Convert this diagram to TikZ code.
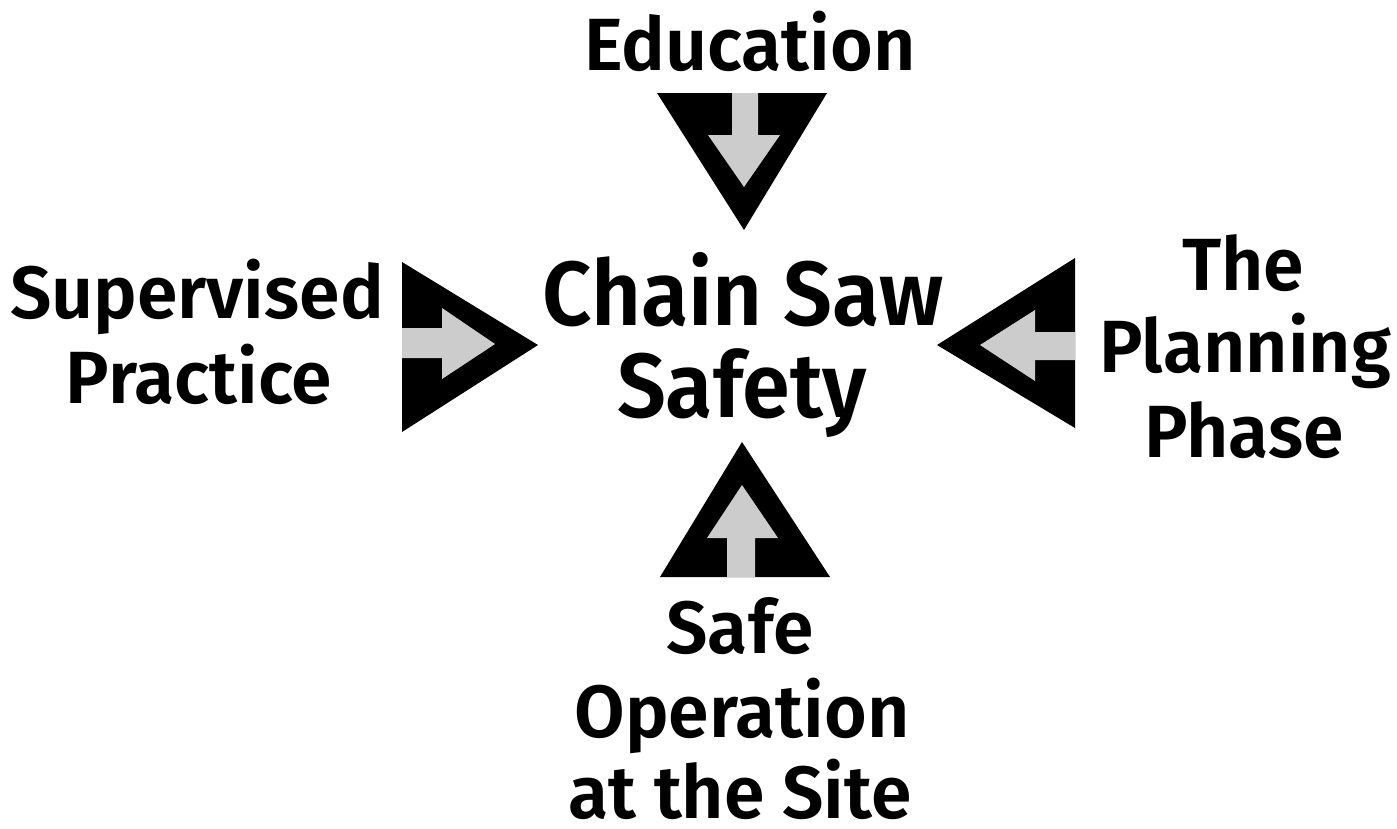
\documentclass[tikz,border=0pt]{standalone}
\usepackage{fontspec}
\newfontfamily\lblfont{Fira Sans SemiBold}[FakeStretch=0.99]
\newfontfamily\ctrfont{Fira Sans SemiBold}[FakeStretch=0.95]
\begin{document}
\begin{tikzpicture}[x=1pt,y=-1pt,
  lbl/.style={anchor=base,inner sep=0pt,text depth=0pt,font=\lblfont\fontsize{74}{80}\selectfont},
  ctr/.style={anchor=base,inner sep=0pt,font=\ctrfont\fontsize{91}{96}\selectfont},
  tri/.style={fill=black,draw=none},
  garrow/.style={fill=black!20,draw=none}]
\useasboundingbox (0,0) rectangle (1397,828);
% top
\path[tri] (657,93) -- (827,93) -- (744,230) -- cycle;
\path[garrow] (732,93) -- (732,135) -- (708,135) -- (744,187) -- (780,135) -- (758,135) -- (758,93) -- cycle;
% left
\path[tri] (402,262) -- (402,432) -- (538,345) -- cycle;
\path[garrow] (402,328) -- (442,328) -- (442,308) -- (495,344) -- (442,379) -- (442,358) -- (402,358) -- cycle;
% right
\path[tri] (1075,258) -- (1075,428) -- (937,345) -- cycle;
\path[garrow] (1075,332) -- (1035,332) -- (1035,310) -- (980,345) -- (1035,381) -- (1035,360) -- (1075,360) -- cycle;
% bottom
\path[tri] (660,577) -- (830,577) -- (742,442) -- cycle;
\path[garrow] (727,577) -- (727,538) -- (707,538) -- (742,485) -- (778,538) -- (755,538) -- (755,577) -- cycle;
% texts
\node[lbl] (edu) at (750,70) {Education};
\node[ctr] (c1) at (743,325) {Chain Saw};
\node[ctr] (c2) at (742,417) {Safety};
\node[lbl] (sp1) at (197,318) {Supervised};
\node[lbl] (sp2) at (199,403) {Practice};
\node[lbl] (pl1) at (1243,290) {The};
\node[lbl] (pl2) at (1245,372) {Planning};
\node[lbl] (pl3) at (1244,457) {Phase};
\node[lbl] (so1) at (740,653) {Safe};
\node[lbl] (so2) at (742,737) {Operation};
\node[lbl] (so3) at (740,818) {at the Site};
\end{tikzpicture}
\end{document}
